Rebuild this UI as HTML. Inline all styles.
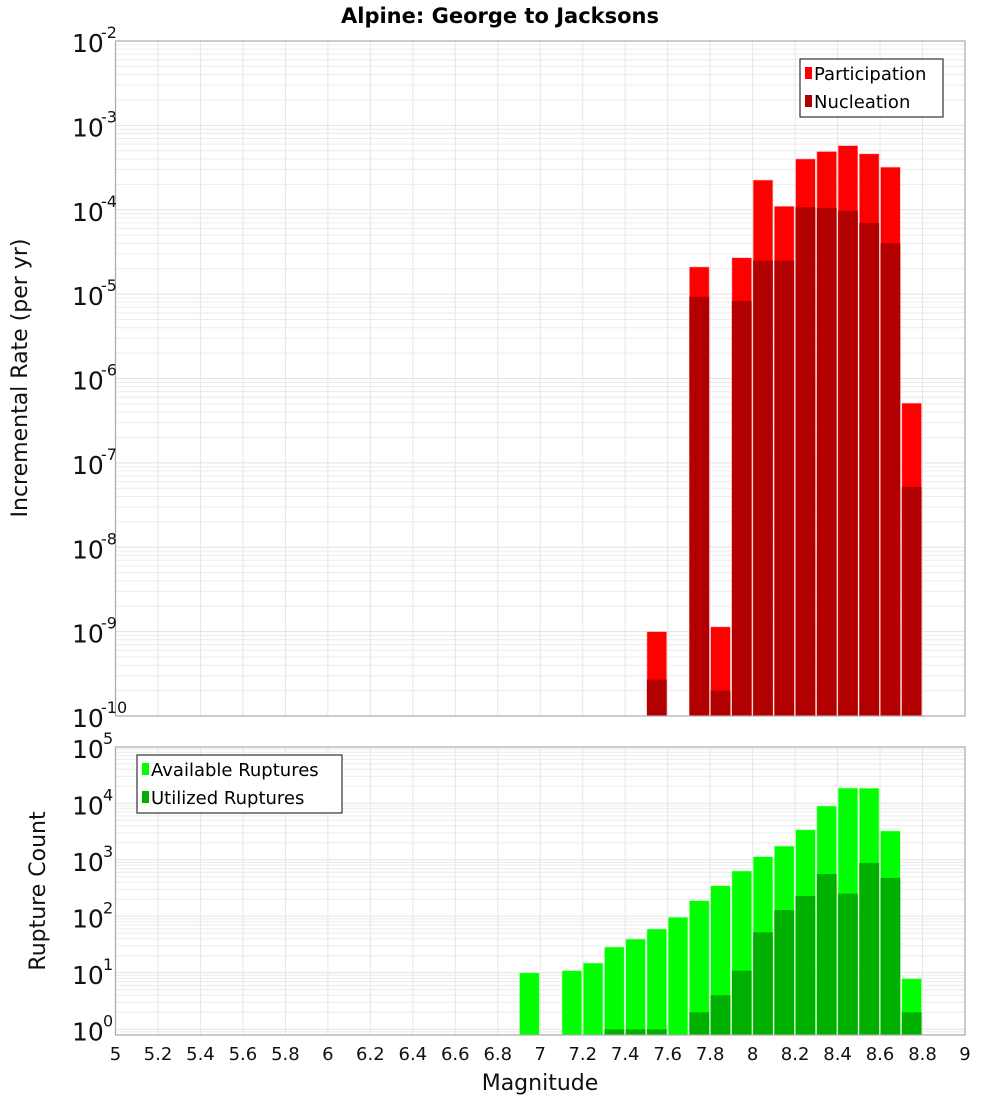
<!DOCTYPE html>
<html><head><meta charset="utf-8"><style>
body{margin:0;background:#fff;font-family:"DejaVu Sans","Liberation Sans",sans-serif}
</style></head><body>
<svg id="c" width="1000" height="1100" xmlns="http://www.w3.org/2000/svg" style="font-family:'DejaVu Sans','Liberation Sans',sans-serif"></svg>
<script>
const mags=[6.9,7.0,7.1,7.2,7.3,7.4,7.5,7.6,7.7,7.8,7.9,8.0,8.1,8.2,8.3,8.4,8.5,8.6,8.7];
const participation=[0,0,0,0,0,0,1.0e-9,0,2.1e-5,1.14e-9,2.7e-5,2.25e-4,1.1e-4,4.0e-4,4.9e-4,5.75e-4,4.6e-4,3.2e-4,5.1e-7];
const nucleation=[0,0,0,0,0,0,2.7e-10,0,9.3e-6,2.0e-10,8.3e-6,2.5e-5,2.5e-5,1.07e-4,1.05e-4,9.7e-5,7.0e-5,4.0e-5,5.2e-8];
const available=[10,0,10.9,14.9,28.6,39.6,59.6,96,189,347,634,1135,1750,3400,8950,18600,18500,3240,7.9];
const utilized=[0,0,0,0,1,1,1,0,2,4,10.9,52,129,229,560,252,880,478,2];
const xTicks=[5,5.2,5.4,5.6,5.8,6,6.2,6.4,6.6,6.8,7,7.2,7.4,7.6,7.8,8,8.2,8.4,8.6,8.8,9];
const topExps=[-2,-3,-4,-5,-6,-7,-8,-9,-10];
const botExps=[5,4,3,2,1,0];

const svg=document.getElementById('c');
const NS='http://www.w3.org/2000/svg';
function el(t,a,txt){const e=document.createElementNS(NS,t);for(const k in a)e.setAttribute(k,a[k]);if(txt!==undefined)e.textContent=txt;svg.appendChild(e);return e;}
const X0=115.5,X1=965;
const xs=v=>X0+(v-5)*(X1-X0)/4;
const T0=41,T1=716;
const yTop=v=>T0+(-2-Math.log10(v))*(T1-T0)/8;
const B0=747,B1=1035,bpd=56.5,bZero=1029.3;
const yBot=v=>bZero-Math.log10(v)*bpd;

function grid(yTopPx,yBotPx,expLo,expHi,yf,name){
  for(let e=expLo;e<=expHi;e++){for(let m=1;m<10;m++){const v=m*Math.pow(10,e);const y=yf(v);if(y<yTopPx-0.5||y>yBotPx+0.5)continue;
    const g=el('line',{x1:X0,x2:X1,y1:y,y2:y,stroke:m==1?'#e2e2e2':'#ececec','stroke-width':1});
    }}
  xTicks.forEach(t=>{const x=xs(t);const g=el('line',{x1:x,x2:x,y1:yTopPx,y2:yBotPx,stroke:'#e6e6e6','stroke-width':1});
    });
}
grid(T0,T1,-10,-3,yTop,'top');
grid(B0,B1,-1,4,yBot,'bottom');

// top bars
mags.forEach((m,i)=>{
  const x=xs(m)+0.5,w=xs(m+0.1)-xs(m)-1.5;
  if(participation[i]>0){const y=yTop(participation[i]);const r=el('rect',{x:x,y:y,width:w,height:T1-y,fill:'#ff0000',stroke:'#ffb0b0','stroke-width':0.6});
    }
  if(nucleation[i]>0){const y=yTop(nucleation[i]);const r=el('rect',{x:x,y:y,width:w,height:T1-y,fill:'#b20000'});
    }
  if(available[i]>0){const y=yBot(available[i]);const r=el('rect',{x:x,y:y,width:w,height:B1-y,fill:'#00ff00',stroke:'#b0ffb0','stroke-width':0.6});
    }
  if(utilized[i]>0){const y=yBot(utilized[i]);const r=el('rect',{x:x,y:y,width:w,height:B1-y,fill:'#00b000'});
    }
});

// frames
let f=el('rect',{x:X0,y:T0,width:X1-X0,height:T1-T0,fill:'none',stroke:'#aaa','stroke-width':1.2});

f=el('rect',{x:X0,y:B0,width:X1-X0,height:B1-B0,fill:'none',stroke:'#aaa','stroke-width':1.2});


// y tick labels
function ylab(y,exp,name){const t=el('text',{x:104,y:y+10,'text-anchor':'end','font-size':25,fill:'#111'});
  
  const a=document.createElementNS(NS,'tspan');a.textContent='10';t.appendChild(a);
  const b=document.createElementNS(NS,'tspan');b.setAttribute('font-size',16);b.setAttribute('dy',-14);b.textContent=String(exp);t.appendChild(b);
  b.setAttribute('x',''); }
topExps.forEach(e=>{const y=yTop(Math.pow(10,e));const t=el('text',{x:72,y:y+11,'font-size':25,fill:'#111'},'10');
  
  const s=el('text',{x:101,y:y-3,'font-size':16,fill:'#111'},String(e));});
botExps.forEach(e=>{const y=yBot(Math.pow(10,e));const t=el('text',{x:72,y:y+11,'font-size':25,fill:'#111'},'10');
  
  const s=el('text',{x:103,y:y-3,'font-size':16,fill:'#111'},String(e));});
xTicks.forEach(t=>{const x=xs(t);const tx=el('text',{x:x,y:1060,'text-anchor':'middle','font-size':18,fill:'#111'},String(t));
  });

let t=el('text',{x:500,y:23,'text-anchor':'middle','font-size':21,'font-weight':'bold',fill:'#000'},'Alpine: George to Jacksons');

t=el('text',{x:540,y:1090,'text-anchor':'middle','font-size':22,fill:'#111'},'Magnitude');

t=el('text',{x:0,y:0,'text-anchor':'middle','font-size':22,fill:'#111',transform:'translate(27,378) rotate(-90)'},'Incremental Rate (per yr)');

t=el('text',{x:0,y:0,'text-anchor':'middle','font-size':22,fill:'#111',transform:'translate(45,891) rotate(-90)'},'Rupture Count');


// legends
function legend(x,y,w,items,name){const b=el('rect',{x:x,y:y,width:w,height:58,fill:'#fff',stroke:'#333','stroke-width':1.2});
  
  items.forEach((it,i)=>{const yy=y+14+i*28;const s=el('rect',{x:x+5,y:yy-6,width:7,height:12,fill:it[1]});
    
    const tt=el('text',{x:x+14,y:yy+7,'font-size':18,fill:'#000'},it[0]);
    });}
legend(800,59,143,[['Participation','#ff0000'],['Nucleation','#b20000']],'top-legend');
legend(137,755,205,[['Available Ruptures','#00ff00'],['Utilized Ruptures','#00b000']],'bottom-legend');
</script>
</body></html>
